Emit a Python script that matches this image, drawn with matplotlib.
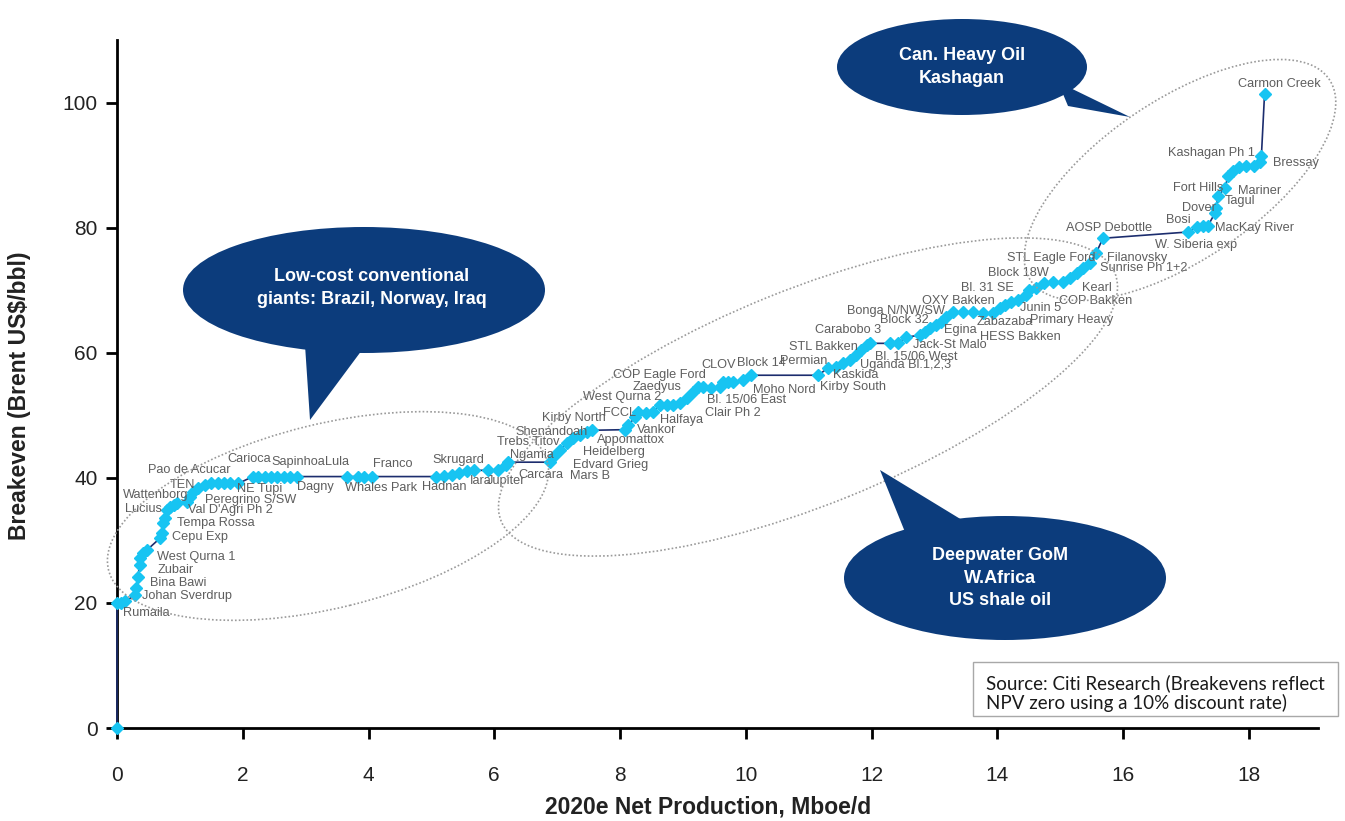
import matplotlib
matplotlib.use("Agg")
import matplotlib.pyplot as plt
from matplotlib.patches import Ellipse, Polygon, Rectangle

# cumulative 2020e net production (Mboe/d) and breakeven (Brent US$/bbl)
prod = [0.0, 0.0, 0.07, 0.13, 0.29, 0.31, 0.33, 0.36, 0.37, 0.42, 0.47, 0.69, 0.71, 0.73,
        0.76, 0.79, 0.84, 0.90, 0.95, 1.11, 1.16, 1.21, 1.29, 1.40, 1.50, 1.60, 1.70, 1.80,
        1.93, 2.16, 2.25, 2.35, 2.45, 2.55, 2.65, 2.75, 2.86, 3.65, 3.83, 3.93, 4.05, 5.08,
        5.20, 5.32, 5.44, 5.56, 5.68, 5.90, 6.06, 6.19, 6.22, 6.88, 6.95, 7.04, 7.15, 7.25,
        7.36, 7.47, 7.55, 8.08, 8.13, 8.24, 8.29, 8.42, 8.52, 8.63, 8.74, 8.84, 8.95, 9.06,
        9.16, 9.24, 9.32, 9.45, 9.59, 9.64, 9.72, 9.80, 9.95, 10.09, 11.15, 11.30, 11.44,
        11.55, 11.65, 11.76, 11.84, 11.92, 11.97, 12.29, 12.42, 12.55, 12.77, 12.85, 12.93,
        13.03, 13.11, 13.19, 13.29, 13.45, 13.61, 13.77, 13.93, 14.04, 14.12, 14.22, 14.33,
        14.46, 14.51, 14.62, 14.75, 14.88, 15.04, 15.15, 15.26, 15.36, 15.47, 15.57, 15.68,
        17.03, 17.17, 17.27, 17.35, 17.46, 17.48, 17.51, 17.62, 17.67, 17.75, 17.85, 17.96,
        18.09, 18.17, 18.20, 18.25]
breakeven = [0.0, 20.0, 20.0, 20.3, 21.2, 22.4, 24.1, 26.0, 27.2, 28.0, 28.4, 30.4, 31.1, 32.7,
             33.5, 34.8, 35.3, 35.6, 35.9, 36.2, 37.0, 37.8, 38.3, 38.8, 39.1, 39.1, 39.1, 39.1,
             39.1, 40.2, 40.2, 40.2, 40.2, 40.2, 40.2, 40.2, 40.2, 40.2, 40.2, 40.2, 40.2, 40.2,
             40.3, 40.5, 40.8, 41.1, 41.2, 41.2, 41.2, 42.0, 42.5, 42.5, 43.5, 44.4, 45.5, 46.3,
             46.8, 47.3, 47.6, 47.7, 48.4, 49.7, 50.5, 50.3, 50.5, 51.6, 51.6, 51.6, 51.9, 52.7,
             53.7, 54.5, 54.5, 54.3, 54.5, 55.3, 55.3, 55.3, 55.6, 56.4, 56.4, 57.5, 57.7,
             58.3, 58.8, 59.6, 60.4, 61.2, 61.5, 61.5, 61.5, 62.5, 62.8, 63.3, 63.9,
             64.4, 64.9, 65.7, 66.5, 66.5, 66.5, 66.3, 66.3, 67.1, 67.6, 68.1, 68.4,
             69.2, 70.0, 70.3, 71.1, 71.3, 71.3, 71.9, 72.7, 73.5, 74.3, 75.9, 78.3,
             79.3, 80.1, 80.2, 80.3, 82.3, 83.1, 85.1, 86.3, 88.3, 89.1, 89.7, 89.9,
             89.9, 90.5, 91.5, 101.4]

# project names and where their labels sit (data units, left edge / vertical centre)
fields = ["Rumaila", "Johan Sverdrup", "Bina Bawi", "Zubair", "West Qurna 1", "Cepu Exp",
          "Tempa Rossa", "Lucius", "Wattenborg", "Val D'Agri Ph 2", "Peregrino S/SW", "TEN",
          "Pao de Acucar", "Carioca", "NE Tupi", "Sapinhoa", "Lula", "Dagny", "Franco",
          "Whales Park", "Skrugard", "Hadnan", "Iara", "Jupiter", "Trebs Titov", "Ngamia",
          "Carcara", "Shenandoah", "Kirby North", "Appomattox", "Heidelberg", "Edvard Grieg",
          "Mars B", "Vankor", "Halfaya", "FCCL", "West Qurna 2", "Zaedyus", "COP Eagle Ford",
          "CLOV", "Block 14", "Bl. 15/06 East", "Clair Ph 2", "Moho Nord", "Permian",
          "STL Bakken", "Carabobo 3", "Kaskida", "Kirby South", "Uganda Bl.1,2,3",
          "Bl. 15/06 West", "Bonga N/NW/SW", "Block 32", "Jack-St Malo", "Egina", "Zabazaba",
          "HESS Bakken", "OXY Bakken", "Bl. 31 SE", "Junin 5", "Primary Heavy", "Block 18W",
          "Kearl", "COP Bakken", "STL Eagle Ford", "Filanovsky", "Sunrise Ph 1+2",
          "AOSP Debottle", "W. Siberia exp", "Bosi", "MacKay River", "Dover", "Fort Hills",
          "Tagul", "Mariner", "Kashagan Ph 1", "Bressay", "Carmon Creek"]
label_x = [0.10, 0.40, 0.52, 0.64, 0.64, 0.87, 0.95, 0.13, 0.10, 1.13, 1.40, 0.84,
           0.49, 1.75, 1.91, 2.46, 3.31, 2.86, 4.07, 3.62, 5.01, 4.85, 5.61, 5.88, 6.04, 6.25,
           6.38, 6.33, 6.76, 7.63, 7.41, 7.25, 7.20, 8.27, 8.63, 7.73, 7.41, 8.20, 7.89,
           9.30, 9.86, 9.38, 9.35, 10.11, 10.54, 10.68, 11.10, 11.38, 11.18, 11.81,
           12.05, 11.61, 12.13, 12.66, 13.16, 13.67, 13.72, 12.81, 13.43, 14.36, 14.52, 13.85,
           15.34, 14.98, 14.15, 15.74, 15.63, 15.10, 16.50, 16.69, 17.46, 16.93, 16.79,
           17.62, 17.82, 16.71, 18.38, 17.82]
label_y = [18.4, 21.1, 23.2, 25.2, 27.3, 30.5, 32.7, 35.0, 37.2, 34.8, 36.4, 38.8,
           41.2, 43.0, 38.2, 42.5, 42.5, 38.5, 42.2, 38.3, 42.8, 38.5, 39.5, 39.5, 45.7, 43.6,
           40.4, 47.4, 49.5, 46.0, 44.1, 42.0, 40.3, 47.6, 49.2, 50.3, 53.0, 54.5, 56.4,
           58.0, 58.3, 52.4, 50.3, 54.0, 58.6, 60.9, 63.6, 56.4, 54.5, 58.0,
           59.3, 66.6, 65.2, 61.3, 63.6, 64.9, 62.5, 68.2, 70.3, 67.1, 65.3, 72.7,
           70.4, 68.2, 75.1, 75.1, 73.5, 79.9, 77.3, 81.2, 80.0, 83.2, 86.3,
           84.3, 85.8, 92.0, 90.3, 103.0]

callouts = ["Low-cost conventional\ngiants: Brazil, Norway, Iraq",
            "Deepwater GoM\nW.Africa\nUS shale oil",
            "Can. Heavy Oil\nKashagan"]
source_note = "Source: Citi Research (Breakevens reflect\nNPV zero using a 10% discount rate)"

narrow = ["Liberation Sans Narrow", "Liberation Sans", "DejaVu Sans"]
navy = "#0c3c7c"

W, H = 1345, 821
fig = plt.figure(figsize=(W / 100, H / 100), dpi=100)
ax = fig.add_axes([117 / W, 93 / H, 1201 / W, 688 / H])


def px(x, y):
    # pixel position (from top-left) -> inches for fig.dpi_scale_trans
    return x / 100, (H - y) / 100


# dotted grouping ellipses
for cx, cy, w, h, ang in [(328, 516, 452, 184, 13.8), (808, 397, 662, 215, 22.0),
                          (1180, 180, 360, 160, 34.0)]:
    fig.add_artist(Ellipse(px(cx, cy), w / 100, h / 100, angle=ang, fill=False,
                           edgecolor="#9a9a9a", linestyle=(0, (1, 1.3)), linewidth=1.2,
                           transform=fig.dpi_scale_trans, zorder=1))

ax.plot(prod, breakeven, color="#1c2d6e", linewidth=1.2, marker="D", markersize=6.5,
        markerfacecolor="#17c4f2", markeredgecolor="#17c4f2", zorder=3, clip_on=False)

for name, lx, ly in zip(fields, label_x, label_y):
    ax.text(lx, ly, name, fontsize=9.2, family=narrow, color="#5e5e5e",
            ha="left", va="center", zorder=4)

ax.set_xlim(0, 19.1)
ax.set_ylim(0, 110)
ax.set_xticks(range(0, 19, 2))
ax.set_yticks(range(0, 101, 20))
for side in ["top", "right"]:
    ax.spines[side].set_visible(False)
for side in ["left", "bottom"]:
    ax.spines[side].set_linewidth(2)
ax.tick_params(direction="out", length=8, width=2, labelsize=15)
ax.tick_params(axis="x", pad=19)
ax.tick_params(axis="y", pad=6)
for t in ax.get_xticklabels() + ax.get_yticklabels():
    t.set_family(["Liberation Sans", "DejaVu Sans"])
    t.set_color("#222222")

ax.set_xlabel("2020e Net Production, Mboe/d", fontsize=16.5, fontweight="bold",
              family=["Liberation Sans", "DejaVu Sans"], color="#222222")
ax.set_ylabel("Breakeven (Brent US$/bbl)", fontsize=16.5, fontweight="bold",
              family=["Liberation Sans", "DejaVu Sans"], color="#222222")
ax.xaxis.set_label_coords(0.492, -0.098)
ax.yaxis.set_label_coords(-0.072, 0.483)

# speech-bubble callouts
bubbles = [((364, 290), 362, 126, [(305, 345), (310, 420), (362, 350)], (372, 288)),
           ((1005, 578), 322, 124, [(905, 532), (880, 470), (962, 520)], (1000, 578)),
           ((962, 67), 250, 96, [(1058, 82), (1130, 117), (1068, 106)], (962, 67))]
for (centre, w, h, tail, tpos), text in zip(bubbles, callouts):
    fig.add_artist(Ellipse(px(*centre), w / 100, h / 100, facecolor=navy, edgecolor="none",
                           transform=fig.dpi_scale_trans, zorder=5))
    fig.add_artist(Polygon([px(*p) for p in tail], closed=True, facecolor=navy,
                           edgecolor="none", transform=fig.dpi_scale_trans, zorder=5))
    fig.text(*px(*tpos), text, transform=fig.dpi_scale_trans, ha="center", va="center",
             color="white", fontsize=13, fontweight="bold", family=narrow,
             linespacing=1.4, zorder=6)

# source box
fig.add_artist(Rectangle(px(973, 716), 3.65, 0.54, facecolor="white", edgecolor="#a8a8a8",
                         linewidth=1, transform=fig.dpi_scale_trans, zorder=5))
fig.text(*px(986, 693), source_note, transform=fig.dpi_scale_trans, ha="left", va="center",
         fontsize=13.5, family=["Lato", "DejaVu Sans"], color="#1a1a1a", linespacing=1.12,
         zorder=6)

fig.savefig("out.png", dpi=100, facecolor="white")
